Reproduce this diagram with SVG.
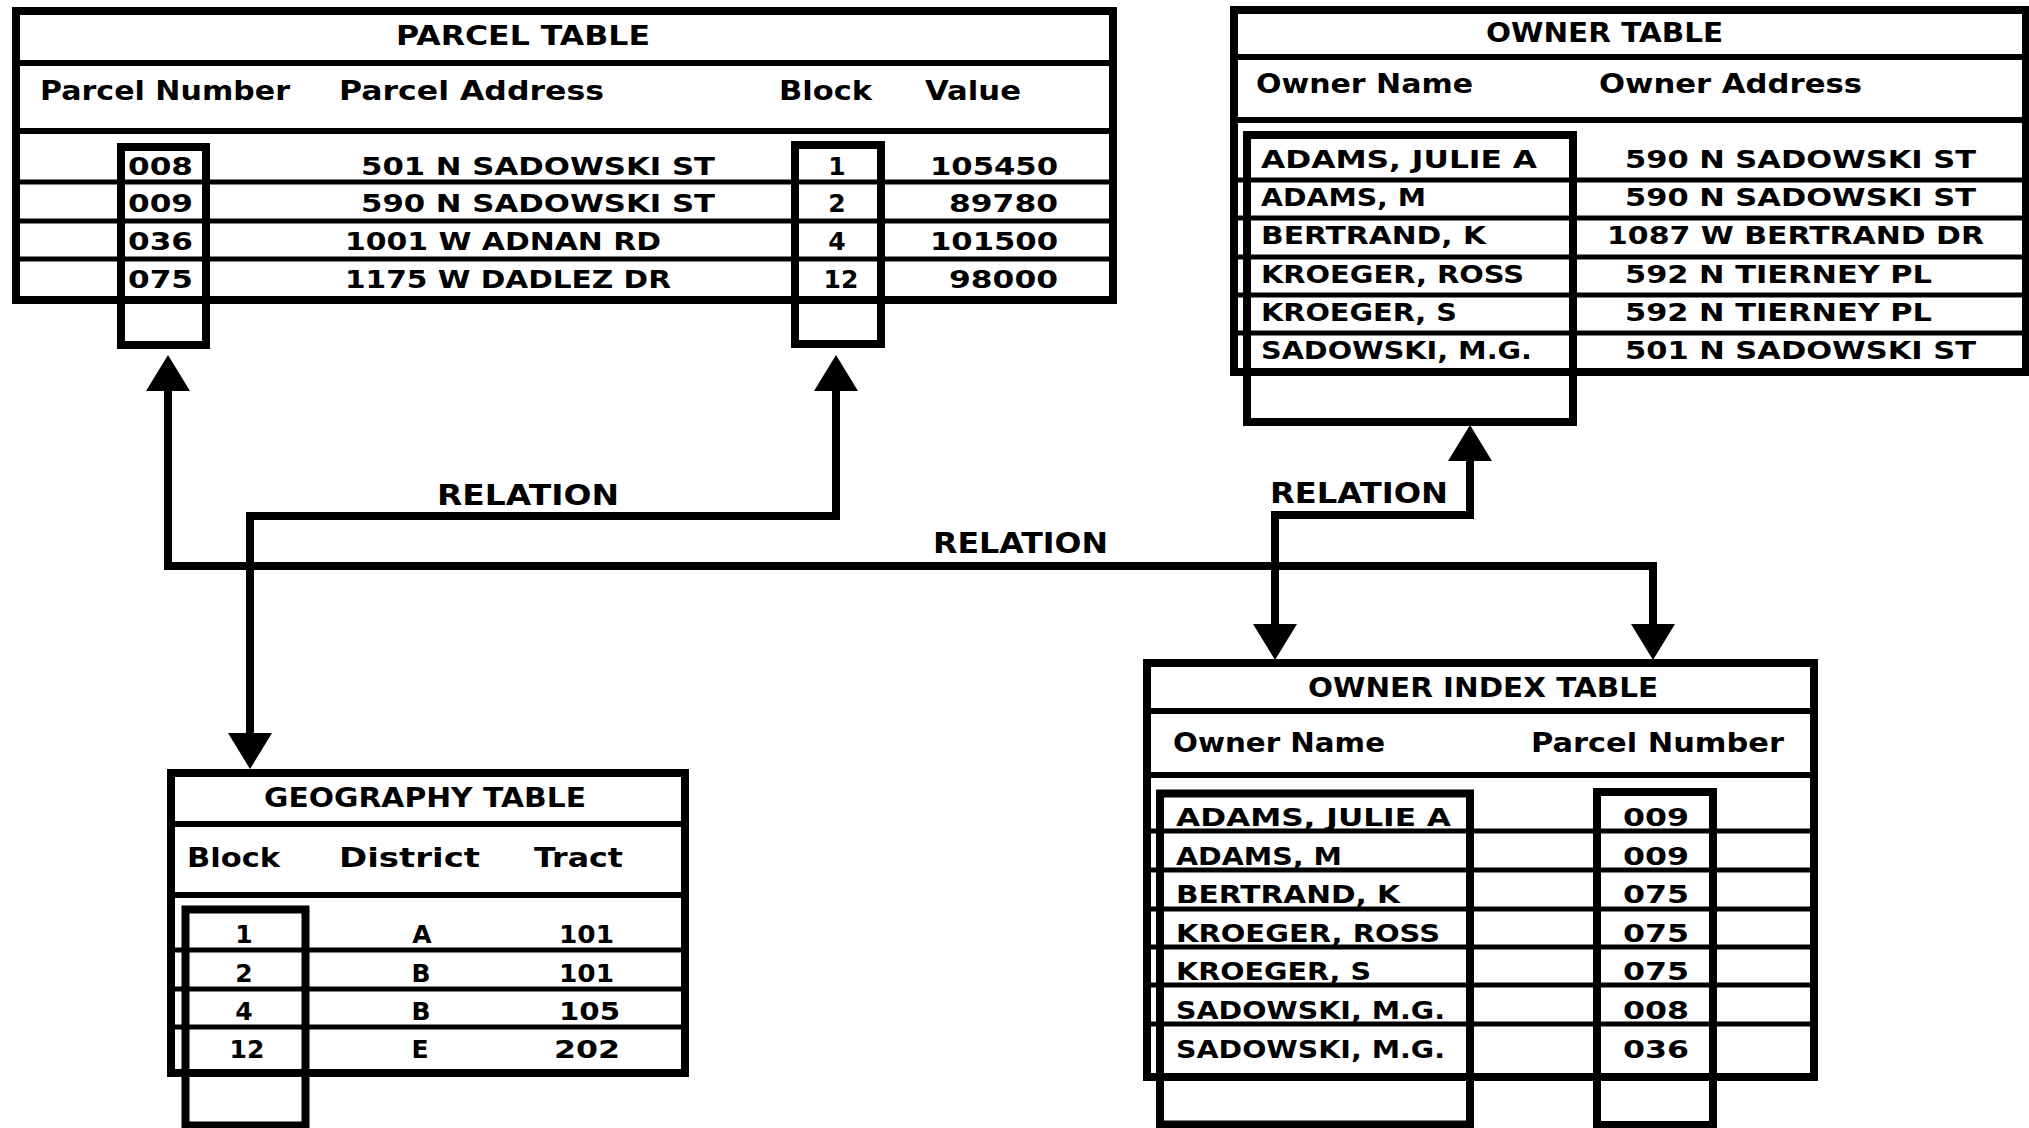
<svg xmlns="http://www.w3.org/2000/svg" width="2029" height="1128" viewBox="0 0 2029 1128">
<style>
.tbl{fill:#fff;stroke:#000;stroke-width:8}
.div{stroke:#000;stroke-width:6}
.row{stroke:#000;stroke-width:5}
.key{fill:none;stroke:#000;stroke-width:8}
.conn{fill:none;stroke:#000;stroke-width:8;marker-start:url(#ah);marker-end:url(#ah)}
text{font-family:"DejaVu Sans","Liberation Sans",sans-serif;font-weight:bold;fill:#000}
.ti{font-size:27px}
.hd{font-size:26px}
.c{font-size:25px}
.rel{font-size:28px}
.m{text-anchor:middle}
</style>
<defs>
<marker id="ah" markerUnits="userSpaceOnUse" markerWidth="36" markerHeight="44" viewBox="0 0 36 44" refX="0" refY="22" orient="auto-start-reverse">
<path d="M0,0 L36,22 L0,44 Z" fill="#000"/>
</marker>
</defs>
<rect width="2029" height="1128" fill="#fff"/>

<g id="connectors">
<path class="conn" d="M168,391 V566 H1653 V624"/>
<path class="conn" d="M836,391 V516 H250 V733"/>
<path class="conn" d="M1470,461 V515 H1275 V624"/>
<text class="rel" x="437" y="505" textLength="182" lengthAdjust="spacingAndGlyphs">RELATION</text>
<text class="rel" x="933" y="553" textLength="175" lengthAdjust="spacingAndGlyphs">RELATION</text>
<text class="rel" x="1270" y="503" textLength="178" lengthAdjust="spacingAndGlyphs">RELATION</text>
</g>

<g id="parcel-table">
<rect class="tbl" x="16" y="11" width="1097" height="289"/>
<line class="div" x1="16" y1="63" x2="1113" y2="63"/>
<line class="div" x1="16" y1="131" x2="1113" y2="131"/>
<line class="row" x1="16" y1="182" x2="1113" y2="182"/>
<line class="row" x1="16" y1="221" x2="1113" y2="221"/>
<line class="row" x1="16" y1="259" x2="1113" y2="259"/>
<rect class="key" x="121" y="147" width="85" height="198"/>
<rect class="key" x="795" y="145" width="86" height="199"/>
<text class="ti" x="396" y="45" textLength="254" lengthAdjust="spacingAndGlyphs">PARCEL TABLE</text>
<text class="hd" x="40" y="100" textLength="250" lengthAdjust="spacingAndGlyphs">Parcel Number</text>
<text class="hd" x="339" y="100" textLength="265" lengthAdjust="spacingAndGlyphs">Parcel Address</text>
<text class="hd" x="779" y="100" textLength="93" lengthAdjust="spacingAndGlyphs">Block</text>
<text class="hd" x="925" y="100" textLength="96" lengthAdjust="spacingAndGlyphs">Value</text>
<text class="c" x="128" y="175" textLength="65" lengthAdjust="spacingAndGlyphs">008</text>
<text class="c" x="128" y="212" textLength="65" lengthAdjust="spacingAndGlyphs">009</text>
<text class="c" x="128" y="250" textLength="65" lengthAdjust="spacingAndGlyphs">036</text>
<text class="c" x="128" y="288" textLength="65" lengthAdjust="spacingAndGlyphs">075</text>
<text class="c" x="361" y="175" textLength="354" lengthAdjust="spacingAndGlyphs">501 N SADOWSKI ST</text>
<text class="c" x="361" y="212" textLength="354" lengthAdjust="spacingAndGlyphs">590 N SADOWSKI ST</text>
<text class="c" x="345" y="250" textLength="316" lengthAdjust="spacingAndGlyphs">1001 W ADNAN RD</text>
<text class="c" x="345" y="288" textLength="326" lengthAdjust="spacingAndGlyphs">1175 W DADLEZ DR</text>
<text class="c m" x="837" y="175">1</text>
<text class="c m" x="837" y="212">2</text>
<text class="c m" x="837" y="250">4</text>
<text class="c m" x="841" y="288">12</text>
<text class="c" x="930" y="175" textLength="128" lengthAdjust="spacingAndGlyphs">105450</text>
<text class="c" x="949" y="212" textLength="109" lengthAdjust="spacingAndGlyphs">89780</text>
<text class="c" x="930" y="250" textLength="128" lengthAdjust="spacingAndGlyphs">101500</text>
<text class="c" x="949" y="288" textLength="109" lengthAdjust="spacingAndGlyphs">98000</text>
</g>

<g id="owner-table">
<rect class="tbl" x="1234" y="10" width="792" height="362"/>
<line class="div" x1="1234" y1="57" x2="2026" y2="57"/>
<line class="div" x1="1234" y1="120" x2="2026" y2="120"/>
<line class="row" x1="1234" y1="180" x2="2026" y2="180"/>
<line class="row" x1="1234" y1="218" x2="2026" y2="218"/>
<line class="row" x1="1234" y1="257" x2="2026" y2="257"/>
<line class="row" x1="1234" y1="295" x2="2026" y2="295"/>
<line class="row" x1="1234" y1="333" x2="2026" y2="333"/>
<rect class="key" x="1247" y="135" width="326" height="287"/>
<text class="ti" x="1486" y="42" textLength="237" lengthAdjust="spacingAndGlyphs">OWNER TABLE</text>
<text class="hd" x="1256" y="93" textLength="217" lengthAdjust="spacingAndGlyphs">Owner Name</text>
<text class="hd" x="1599" y="93" textLength="263" lengthAdjust="spacingAndGlyphs">Owner Address</text>
<text class="c" x="1261" y="168" textLength="276" lengthAdjust="spacingAndGlyphs">ADAMS, JULIE A</text>
<text class="c" x="1261" y="206" textLength="165" lengthAdjust="spacingAndGlyphs">ADAMS, M</text>
<text class="c" x="1261" y="244" textLength="225" lengthAdjust="spacingAndGlyphs">BERTRAND, K</text>
<text class="c" x="1261" y="283" textLength="263" lengthAdjust="spacingAndGlyphs">KROEGER, ROSS</text>
<text class="c" x="1261" y="321" textLength="196" lengthAdjust="spacingAndGlyphs">KROEGER, S</text>
<text class="c" x="1261" y="359" textLength="271" lengthAdjust="spacingAndGlyphs">SADOWSKI, M.G.</text>
<text class="c" x="1625" y="168" textLength="351" lengthAdjust="spacingAndGlyphs">590 N SADOWSKI ST</text>
<text class="c" x="1625" y="206" textLength="351" lengthAdjust="spacingAndGlyphs">590 N SADOWSKI ST</text>
<text class="c" x="1607" y="244" textLength="377" lengthAdjust="spacingAndGlyphs">1087 W BERTRAND DR</text>
<text class="c" x="1625" y="283" textLength="307" lengthAdjust="spacingAndGlyphs">592 N TIERNEY PL</text>
<text class="c" x="1625" y="321" textLength="307" lengthAdjust="spacingAndGlyphs">592 N TIERNEY PL</text>
<text class="c" x="1625" y="359" textLength="351" lengthAdjust="spacingAndGlyphs">501 N SADOWSKI ST</text>
</g>

<g id="geography-table">
<rect class="tbl" x="171" y="773" width="514" height="300"/>
<line class="div" x1="171" y1="824" x2="685" y2="824"/>
<line class="div" x1="171" y1="895" x2="685" y2="895"/>
<line class="row" x1="171" y1="950" x2="685" y2="950"/>
<line class="row" x1="171" y1="989" x2="685" y2="989"/>
<line class="row" x1="171" y1="1027" x2="685" y2="1027"/>
<rect class="key" x="185.5" y="909.5" width="120" height="216"/>
<text class="ti" x="264" y="807" textLength="322" lengthAdjust="spacingAndGlyphs">GEOGRAPHY TABLE</text>
<text class="hd" x="187" y="867" textLength="93" lengthAdjust="spacingAndGlyphs">Block</text>
<text class="hd" x="339" y="867" textLength="141" lengthAdjust="spacingAndGlyphs">District</text>
<text class="hd" x="534" y="867" textLength="89" lengthAdjust="spacingAndGlyphs">Tract</text>
<text class="c m" x="244" y="943">1</text>
<text class="c m" x="244" y="982">2</text>
<text class="c m" x="244" y="1020">4</text>
<text class="c m" x="247" y="1058">12</text>
<text class="c m" x="422" y="943">A</text>
<text class="c m" x="421" y="982">B</text>
<text class="c m" x="421" y="1020">B</text>
<text class="c m" x="420" y="1058">E</text>
<text class="c" x="559" y="943" textLength="55" lengthAdjust="spacingAndGlyphs">101</text>
<text class="c" x="559" y="982" textLength="55" lengthAdjust="spacingAndGlyphs">101</text>
<text class="c" x="559" y="1020" textLength="61" lengthAdjust="spacingAndGlyphs">105</text>
<text class="c" x="554" y="1058" textLength="66" lengthAdjust="spacingAndGlyphs">202</text>
</g>

<g id="owner-index-table">
<rect class="tbl" x="1147" y="663" width="667" height="414"/>
<line class="div" x1="1147" y1="711" x2="1814" y2="711"/>
<line class="div" x1="1147" y1="775" x2="1814" y2="775"/>
<line class="row" x1="1147" y1="831" x2="1814" y2="831"/>
<line class="row" x1="1147" y1="870" x2="1814" y2="870"/>
<line class="row" x1="1147" y1="909" x2="1814" y2="909"/>
<line class="row" x1="1147" y1="947" x2="1814" y2="947"/>
<line class="row" x1="1147" y1="985" x2="1814" y2="985"/>
<line class="row" x1="1147" y1="1024" x2="1814" y2="1024"/>
<rect class="key" x="1160" y="793.5" width="310" height="331"/>
<rect class="key" x="1597" y="792" width="116" height="333"/>
<text class="ti" x="1308" y="697" textLength="350" lengthAdjust="spacingAndGlyphs">OWNER INDEX TABLE</text>
<text class="hd" x="1173" y="752" textLength="212" lengthAdjust="spacingAndGlyphs">Owner Name</text>
<text class="hd" x="1531" y="752" textLength="253" lengthAdjust="spacingAndGlyphs">Parcel Number</text>
<text class="c" x="1176" y="826" textLength="275" lengthAdjust="spacingAndGlyphs">ADAMS, JULIE A</text>
<text class="c" x="1176" y="865" textLength="166" lengthAdjust="spacingAndGlyphs">ADAMS, M</text>
<text class="c" x="1176" y="903" textLength="224" lengthAdjust="spacingAndGlyphs">BERTRAND, K</text>
<text class="c" x="1176" y="942" textLength="264" lengthAdjust="spacingAndGlyphs">KROEGER, ROSS</text>
<text class="c" x="1176" y="980" textLength="195" lengthAdjust="spacingAndGlyphs">KROEGER, S</text>
<text class="c" x="1176" y="1019" textLength="269" lengthAdjust="spacingAndGlyphs">SADOWSKI, M.G.</text>
<text class="c" x="1176" y="1058" textLength="269" lengthAdjust="spacingAndGlyphs">SADOWSKI, M.G.</text>
<text class="c" x="1623" y="826" textLength="66" lengthAdjust="spacingAndGlyphs">009</text>
<text class="c" x="1623" y="865" textLength="66" lengthAdjust="spacingAndGlyphs">009</text>
<text class="c" x="1623" y="903" textLength="66" lengthAdjust="spacingAndGlyphs">075</text>
<text class="c" x="1623" y="942" textLength="66" lengthAdjust="spacingAndGlyphs">075</text>
<text class="c" x="1623" y="980" textLength="66" lengthAdjust="spacingAndGlyphs">075</text>
<text class="c" x="1623" y="1019" textLength="66" lengthAdjust="spacingAndGlyphs">008</text>
<text class="c" x="1623" y="1058" textLength="66" lengthAdjust="spacingAndGlyphs">036</text>
</g>
</svg>
